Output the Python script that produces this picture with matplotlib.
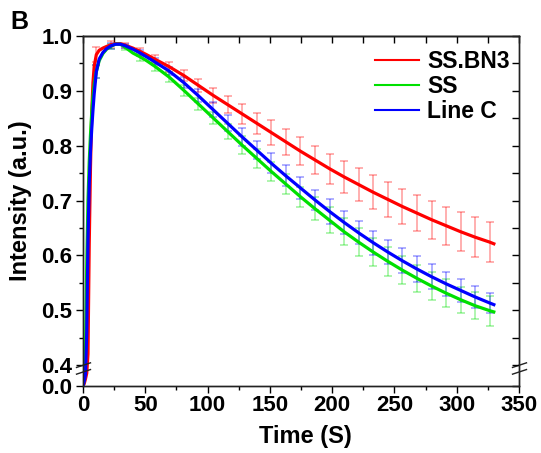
import numpy as np
import matplotlib
matplotlib.use('Agg')
import matplotlib.pyplot as plt
import matplotlib.transforms as mtrans
from matplotlib.lines import Line2D
from matplotlib.path import Path
from matplotlib.ticker import FixedLocator, FormatStrFormatter, MultipleLocator

plt.rcParams['font.family'] = ['Liberation Sans', 'DejaVu Sans']
plt.rcParams['font.weight'] = 'bold'

# ---------------- data ----------------
series_names = ['SS.BN3', 'SS', 'Line C']
series_colors = ['#ff0000', '#00e000', '#0000ff']

line_time = [0, 1, 2, 3, 4, 5, 6, 7, 8, 9, 10.7, 13, 16, 19, 22.4, 26, 30, 34.1, 40,
             45.8, 51, 57.5, 69.2, 80.9, 92.6, 104.3, 116.0, 127.7, 139.4, 151.1,
             162.8, 174.5, 186.2, 197.9, 209.6, 221.3, 233.0, 244.7, 256.4, 268.1,
             279.8, 291.5, 303.2, 314.9, 326.6, 331]

red_line = [0.0, 0.06, 0.18, 0.32, 0.42, 0.62, 0.76, 0.86, 0.915, 0.945, 0.966, 0.974,
            0.978, 0.981, 0.984, 0.986, 0.986, 0.983, 0.978, 0.972, 0.966, 0.958, 0.944,
            0.928, 0.910, 0.892, 0.875, 0.858, 0.841, 0.824, 0.807, 0.790, 0.774, 0.758,
            0.743, 0.729, 0.715, 0.702, 0.689, 0.677, 0.665, 0.654, 0.643, 0.633, 0.624,
            0.620]

green_line = [0.0, 0.18, 0.42, 0.58, 0.70, 0.77, 0.82, 0.86, 0.89, 0.912, 0.935, 0.955,
              0.968, 0.976, 0.981, 0.985, 0.985, 0.979, 0.969, 0.962, 0.955, 0.945, 0.925,
              0.901, 0.876, 0.851, 0.826, 0.801, 0.777, 0.753, 0.730, 0.707, 0.685, 0.664,
              0.643, 0.624, 0.606, 0.589, 0.573, 0.558, 0.544, 0.531, 0.519, 0.508, 0.499,
              0.496]

blue_line = [0.0, 0.12, 0.30, 0.46, 0.63, 0.73, 0.79, 0.83, 0.865, 0.895, 0.935, 0.958,
             0.970, 0.977, 0.982, 0.985, 0.985, 0.982, 0.976, 0.969, 0.962, 0.953, 0.936,
             0.915, 0.891, 0.866, 0.841, 0.816, 0.792, 0.768, 0.745, 0.723, 0.701, 0.680,
             0.660, 0.641, 0.623, 0.606, 0.590, 0.575, 0.561, 0.548, 0.536, 0.524, 0.513,
             0.509]

bar_time = [10.7, 22.4, 34.1, 45.8, 57.5, 69.2, 80.9, 92.6, 104.3, 116.0, 127.7, 139.4,
            151.1, 162.8, 174.5, 186.2, 197.9, 209.6, 221.3, 233.0, 244.7, 256.4, 268.1,
            279.8, 291.5, 303.2, 314.9, 326.6]

red_err = [0.014, 0.006, 0.005, 0.006, 0.008, 0.009, 0.010, 0.012, 0.014, 0.015, 0.018,
           0.019, 0.022, 0.024, 0.025, 0.025, 0.027, 0.029, 0.030, 0.031, 0.032, 0.0325,
           0.033, 0.035, 0.035, 0.0355, 0.0365, 0.0365]
green_err = [0.012, 0.005, 0.005, 0.007, 0.008, 0.009, 0.010, 0.011, 0.011, 0.014, 0.017,
             0.017, 0.018, 0.018, 0.018, 0.021, 0.024, 0.025, 0.025, 0.025, 0.026, 0.026,
             0.025, 0.025, 0.025, 0.024, 0.0245, 0.027]
blue_err = [0.012, 0.005, 0.004, 0.005, 0.006, 0.008, 0.010, 0.012, 0.014, 0.015, 0.017,
            0.016, 0.018, 0.019, 0.020, 0.019, 0.022, 0.021, 0.021, 0.022, 0.022, 0.023,
            0.023, 0.023, 0.022, 0.021, 0.020, 0.0185]

x_ticks = [0, 50, 100, 150, 200, 250, 300, 350]
y_ticks = [0.0, 0.4, 0.5, 0.6, 0.7, 0.8, 0.9, 1.0]
y_minor = [0.45, 0.55, 0.65, 0.75, 0.85, 0.95]

# ---------------- broken y scale ----------------
BRK = 0.39
K = 0.0725


def fwd(y):
    y = np.asarray(y, dtype=float)
    return np.where(y >= BRK, y, BRK - (BRK - y) * K)


def inv(u):
    u = np.asarray(u, dtype=float)
    return np.where(u >= BRK, u, BRK - (BRK - u) / K)


W, H = 541, 453
fig = plt.figure(figsize=(W / 100, H / 100), dpi=100)
ax = fig.add_axes([83 / W, 1 - 386 / H, (519 - 83) / W, (386 - 36) / H])
ax.set_yscale('function', functions=(fwd, inv))
ax.set_xlim(0, 350)
ax.set_ylim(0, 1.0)

lines = [red_line, green_line, blue_line]
errs = [red_err, green_err, blue_err]
lt = np.array(line_time)
bt = np.array(bar_time)
mask = np.isin(lt, bt)

for vals, err, col in zip(lines, errs, series_colors):
    v = np.array(vals)
    ax.errorbar(lt[mask], v[mask], yerr=err, fmt='none', ecolor=col, alpha=0.4,
                elinewidth=1.1, capsize=2.6, capthick=1.1, zorder=2)
for vals, col in zip(lines, series_colors):
    ax.plot(lt, vals, color=col, lw=2.3, zorder=3, solid_capstyle='butt')

# ticks
ax.xaxis.set_major_locator(FixedLocator(x_ticks))
ax.xaxis.set_minor_locator(MultipleLocator(25))
ax.yaxis.set_major_locator(FixedLocator(y_ticks))
ax.yaxis.set_minor_locator(FixedLocator(y_minor))
ax.yaxis.set_major_formatter(FormatStrFormatter('%.1f'))
ax.xaxis.set_major_formatter(FormatStrFormatter('%d'))
ax.tick_params(which='major', direction='out', length=5, width=1, labelsize=16)
ax.tick_params(which='minor', direction='out', length=3, width=1)
ax.tick_params(axis='x', which='major', pad=1.5)
ax.tick_params(axis='y', which='major', pad=2.5)
for lab in ax.get_xticklabels() + ax.get_yticklabels():
    lab.set_fontweight('bold')

# right axis (inward ticks)
axr = ax.twinx()
axr.set_yscale('function', functions=(fwd, inv))
axr.set_ylim(0, 1.0)
axr.yaxis.set_major_locator(FixedLocator(y_ticks))
axr.yaxis.set_minor_locator(FixedLocator(y_minor))
axr.tick_params(which='both', direction='in', length=5, width=1, labelright=False)

# top axis (inward ticks)
axt = ax.secondary_xaxis('top')
axt.xaxis.set_major_locator(FixedLocator(x_ticks))
axt.xaxis.set_minor_locator(MultipleLocator(25))
axt.tick_params(which='both', direction='in', length=5, width=1, labeltop=False)

for a in (ax, axr):
    for s in a.spines.values():
        s.set_linewidth(1.0)
        s.set_color('#222222')
axt.spines['top'].set_linewidth(1.0)

# break marks
brk_path = Path([(-1, 0.11), (1, 0.77), (-1, -0.77), (1, -0.11)],
                [Path.MOVETO, Path.LINETO, Path.MOVETO, Path.LINETO])
bt_trans = mtrans.blended_transform_factory(ax.transAxes, ax.transData)
ax.plot([0, 1], [0.394, 0.394], transform=bt_trans, linestyle='none', marker=brk_path,
        markersize=11, markeredgecolor='#222222', markerfacecolor='none',
        markeredgewidth=1.0, clip_on=False, zorder=5)

# labels
ax.set_xlabel('Time (S)', fontsize=17, fontweight='bold')
ax.xaxis.set_label_coords(0.509, -0.11)
ax.xaxis.label.set_va('top')
ax.set_ylabel('Intensity (a.u.)', fontsize=17, fontweight='bold')
ax.yaxis.set_label_coords(-0.117, 0.529)

fig.text(0.02, 0.978, 'B', fontsize=18, fontweight='bold', ha='left', va='top')

handles = [Line2D([], [], color=c, lw=1.5) for c in series_colors]
leg = ax.legend(handles, series_names, loc='upper right', bbox_to_anchor=(0.979, 0.96),
                frameon=False, fontsize=16.5, handlelength=1.9, handletextpad=0.36,
                labelspacing=0.08, borderpad=0, borderaxespad=0)
for t in leg.get_texts():
    t.set_fontweight('bold')

fig.savefig('out.png', dpi=100)
